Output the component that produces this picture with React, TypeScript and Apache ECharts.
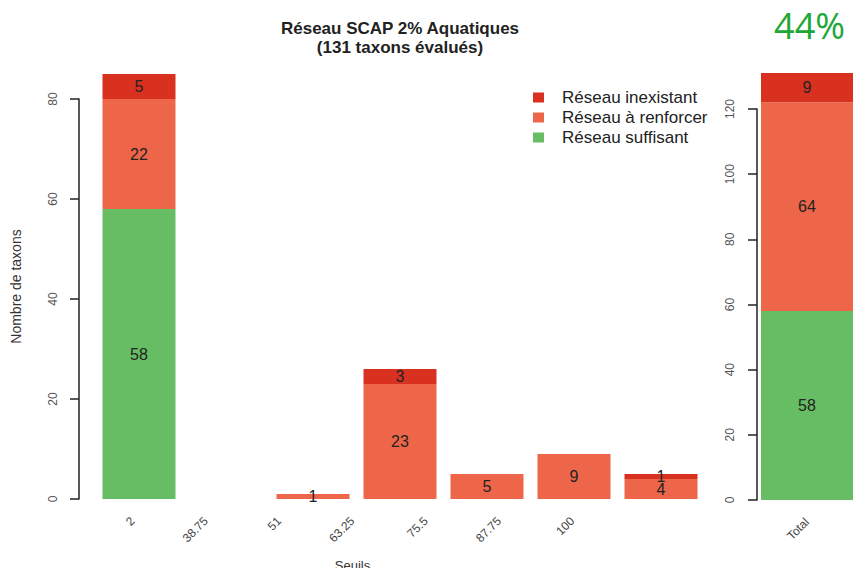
import React, { useEffect, useRef } from "react";
import * as echarts from "echarts";

const categories = ["2", "38.75", "51", "63.25", "75.5", "87.75", "100"];
const suffisant = [58, 0, 0, 0, 0, 0, 0];
const renforcer = [22, 0, 1, 23, 5, 9, 4];
const inexistant = [5, 0, 0, 3, 0, 0, 1];

const totalCategory = ["Total"];
const totalSuffisant = [58];
const totalRenforcer = [64];
const totalInexistant = [9];

const leftAxisMax = 80;
const rightAxisMax = 120;
const leftDataMax = 85;
const rightDataMax = 131;

const seriesNames = ["Réseau inexistant", "Réseau à renforcer", "Réseau suffisant"];
const colors = { inexistant: "#d9311f", renforcer: "#ee6649", suffisant: "#66bd63" };
const FONT = "'Liberation Sans', Arial, Helvetica, sans-serif";

export default function App() {
  const ref = useRef<HTMLDivElement>(null);
  useEffect(() => {
    if (!ref.current) return;
    const chart = echarts.init(ref.current, null, { renderer: "svg" });
    const label = {
      show: true,
      position: "inside",
      color: "#222",
      fontSize: 16,
      fontFamily: FONT,
      formatter: (p: any) => (p.value ? String(p.value) : ""),
    };
    const hiddenX = (gridIndex: number, data: string[]) => ({
      type: "category",
      gridIndex,
      data,
      axisLine: { show: false },
      axisTick: { show: false },
      axisLabel: { show: false },
      splitLine: { show: false },
    });
    const hiddenY = (gridIndex: number, max: number) => ({
      type: "value",
      gridIndex,
      min: 0,
      max,
      axisLine: { show: false },
      axisTick: { show: false },
      axisLabel: { show: false },
      splitLine: { show: false },
    });
    const visibleY = (gridIndex: number, max: number, offset: number, margin: number) => ({
      type: "value",
      gridIndex,
      min: 0,
      max,
      interval: 20,
      offset,
      axisLine: { show: true, lineStyle: { color: "#222", width: 1.5 } },
      axisTick: { show: true, length: 9, lineStyle: { color: "#222", width: 1.5 } },
      axisLabel: { rotate: 90, fontSize: 12, color: "#555", fontFamily: FONT, margin },
      splitLine: { show: false },
    });
    const g = { outerBoundsMode: "none", containLabel: false };
    chart.setOption({
      animation: false,
      backgroundColor: "#ffffff",
      title: [
        {
          text: "Réseau SCAP 2% Aquatiques\n(131 taxons évalués)",
          left: 395,
          top: 14,
          textAlign: "center",
          textStyle: { fontSize: 17, fontWeight: "bold", color: "#222", lineHeight: 19, fontFamily: FONT },
        },
        {
          text: "44%",
          right: 3,
          top: 2,
          textStyle: { fontSize: 36, fontWeight: "normal", color: "#21a638", fontFamily: "'Open Sans', Arial, sans-serif" },
        },
      ],
      legend: {
        data: seriesNames,
        orient: "vertical",
        left: 528,
        top: 84,
        itemWidth: 11,
        itemHeight: 10,
        itemGap: 3,
        icon: "rect",
        textStyle: { fontSize: 17, color: "#222", fontFamily: FONT, padding: [0, 0, 0, 13] },
      },
      grid: [
        { left: 95.5, width: 609, top: 74, height: 425, ...g },
        { left: 95.5, width: 609, top: 99, height: 400, ...g },
        { left: 96, width: 513, top: 74, height: 425, ...g },
        { left: 761, width: 92, top: 73, height: 427, ...g },
        { left: 761, width: 92, top: 109, height: 391, ...g },
      ],
      xAxis: [
        hiddenX(0, categories),
        hiddenX(1, categories),
        {
          type: "category",
          gridIndex: 2,
          data: categories,
          axisLine: { show: false },
          axisTick: { show: false },
          axisLabel: { rotate: 45, fontSize: 12, color: "#444", fontFamily: FONT, margin: 20, interval: 0 },
          name: "Seuils",
          nameLocation: "middle",
          nameGap: 60,
          nameTextStyle: { fontSize: 13, color: "#333", fontFamily: FONT },
        },
        {
          type: "category",
          gridIndex: 3,
          data: totalCategory,
          axisLine: { show: false },
          axisTick: { show: false },
          axisLabel: { rotate: 45, fontSize: 12, color: "#444", fontFamily: FONT, margin: 20 },
        },
        hiddenX(4, totalCategory),
      ],
      yAxis: [
        {
          ...hiddenY(0, leftDataMax),
          offset: 16.5,
          name: "Nombre de taxons",
          nameLocation: "middle",
          nameGap: 56,
          nameTextStyle: { fontSize: 14, color: "#333", fontFamily: FONT },
        },
        visibleY(1, leftAxisMax, 16.5, 20),
        hiddenY(2, leftDataMax),
        hiddenY(3, rightDataMax),
        visibleY(4, rightAxisMax, 4, 21),
      ],
      series: [
        { name: seriesNames[2], type: "bar", stack: "left", xAxisIndex: 0, yAxisIndex: 0, data: suffisant, barWidth: 73, itemStyle: { color: colors.suffisant }, label },
        { name: seriesNames[1], type: "bar", stack: "left", xAxisIndex: 0, yAxisIndex: 0, data: renforcer, barWidth: 73, itemStyle: { color: colors.renforcer }, label },
        { name: seriesNames[0], type: "bar", stack: "left", xAxisIndex: 0, yAxisIndex: 0, data: inexistant, barWidth: 73, itemStyle: { color: colors.inexistant }, label },
        { name: seriesNames[2], type: "bar", stack: "right", xAxisIndex: 3, yAxisIndex: 3, data: totalSuffisant, barWidth: "100%", itemStyle: { color: colors.suffisant }, label },
        { name: seriesNames[1], type: "bar", stack: "right", xAxisIndex: 3, yAxisIndex: 3, data: totalRenforcer, barWidth: "100%", itemStyle: { color: colors.renforcer }, label },
        { name: seriesNames[0], type: "bar", stack: "right", xAxisIndex: 3, yAxisIndex: 3, data: totalInexistant, barWidth: "100%", itemStyle: { color: colors.inexistant }, label },
      ],
    });
    return () => chart.dispose();
  }, []);
  return <div ref={ref} style={{ position: "fixed", left: 0, top: 0, width: 853, height: 568 }} />;
}
